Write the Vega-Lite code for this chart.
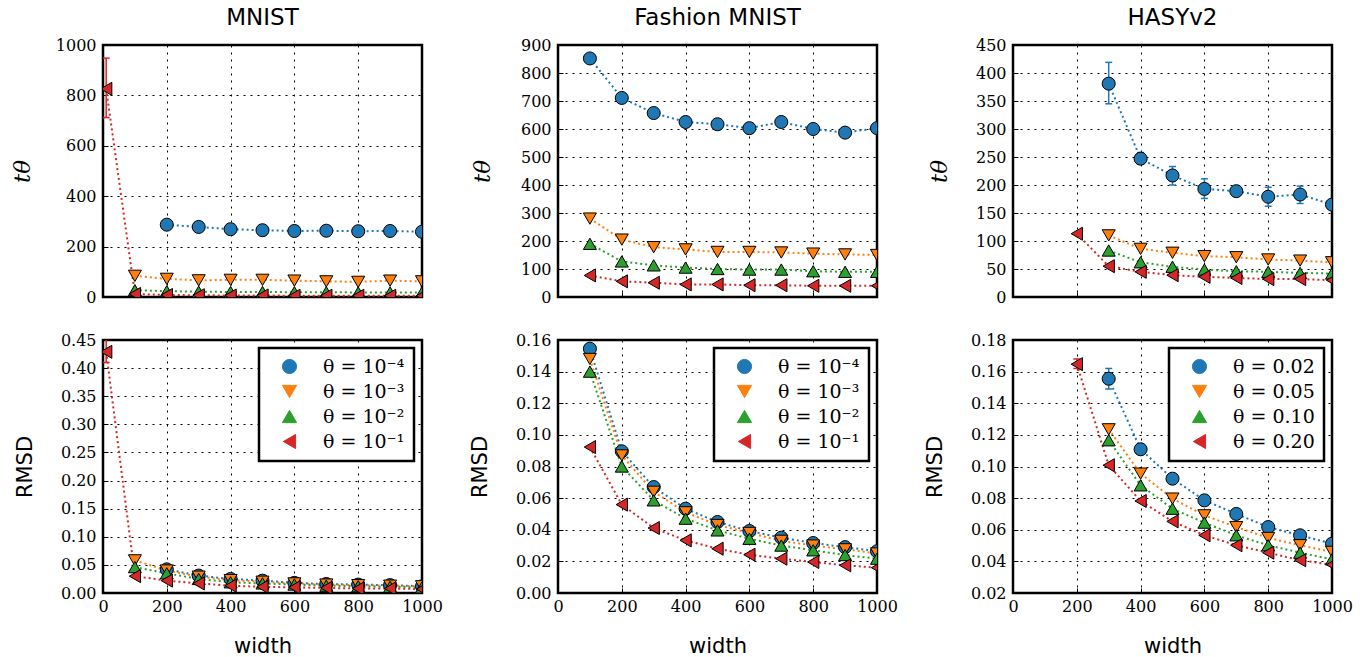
{
"$schema": "https://vega.github.io/schema/vega-lite/v6.json",
"padding": {"left": 10, "top": 5, "right": 5, "bottom": 5},
"columns": 3,
"spacing": {"row": 43, "column": 136},
"bounds": "flush",
"resolve": {"scale": {"color": "independent", "shape": "independent", "x": "independent", "y": "independent"}, "legend": {"color": "independent", "shape": "independent"}},
"data": {"values": [
{"d":"MNIST","m":"t","s":"θ = 10⁻⁴","w":200,"v":287},{"d":"MNIST","m":"t","s":"θ = 10⁻⁴","w":300,"v":278},{"d":"MNIST","m":"t","s":"θ = 10⁻⁴","w":400,"v":269},{"d":"MNIST","m":"t","s":"θ = 10⁻⁴","w":500,"v":265},{"d":"MNIST","m":"t","s":"θ = 10⁻⁴","w":600,"v":262},{"d":"MNIST","m":"t","s":"θ = 10⁻⁴","w":700,"v":263},{"d":"MNIST","m":"t","s":"θ = 10⁻⁴","w":800,"v":261},{"d":"MNIST","m":"t","s":"θ = 10⁻⁴","w":900,"v":262},{"d":"MNIST","m":"t","s":"θ = 10⁻⁴","w":1000,"v":259},
{"d":"MNIST","m":"t","s":"θ = 10⁻³","w":100,"v":84},{"d":"MNIST","m":"t","s":"θ = 10⁻³","w":200,"v":72},{"d":"MNIST","m":"t","s":"θ = 10⁻³","w":300,"v":66},{"d":"MNIST","m":"t","s":"θ = 10⁻³","w":400,"v":68},{"d":"MNIST","m":"t","s":"θ = 10⁻³","w":500,"v":68},{"d":"MNIST","m":"t","s":"θ = 10⁻³","w":600,"v":65},{"d":"MNIST","m":"t","s":"θ = 10⁻³","w":700,"v":62},{"d":"MNIST","m":"t","s":"θ = 10⁻³","w":800,"v":60},{"d":"MNIST","m":"t","s":"θ = 10⁻³","w":900,"v":65},{"d":"MNIST","m":"t","s":"θ = 10⁻³","w":1000,"v":62},
{"d":"MNIST","m":"t","s":"θ = 10⁻²","w":100,"v":27},{"d":"MNIST","m":"t","s":"θ = 10⁻²","w":200,"v":23},{"d":"MNIST","m":"t","s":"θ = 10⁻²","w":300,"v":21},{"d":"MNIST","m":"t","s":"θ = 10⁻²","w":400,"v":20},{"d":"MNIST","m":"t","s":"θ = 10⁻²","w":500,"v":20},{"d":"MNIST","m":"t","s":"θ = 10⁻²","w":600,"v":19},{"d":"MNIST","m":"t","s":"θ = 10⁻²","w":700,"v":19},{"d":"MNIST","m":"t","s":"θ = 10⁻²","w":800,"v":18},{"d":"MNIST","m":"t","s":"θ = 10⁻²","w":900,"v":18},{"d":"MNIST","m":"t","s":"θ = 10⁻²","w":1000,"v":18},
{"d":"MNIST","m":"t","s":"θ = 10⁻¹","w":10,"v":826,"lo":712,"hi":948},{"d":"MNIST","m":"t","s":"θ = 10⁻¹","w":100,"v":12},{"d":"MNIST","m":"t","s":"θ = 10⁻¹","w":200,"v":8},{"d":"MNIST","m":"t","s":"θ = 10⁻¹","w":300,"v":7},{"d":"MNIST","m":"t","s":"θ = 10⁻¹","w":400,"v":6},{"d":"MNIST","m":"t","s":"θ = 10⁻¹","w":500,"v":6},{"d":"MNIST","m":"t","s":"θ = 10⁻¹","w":600,"v":5},{"d":"MNIST","m":"t","s":"θ = 10⁻¹","w":700,"v":5},{"d":"MNIST","m":"t","s":"θ = 10⁻¹","w":800,"v":5},{"d":"MNIST","m":"t","s":"θ = 10⁻¹","w":900,"v":5},{"d":"MNIST","m":"t","s":"θ = 10⁻¹","w":1000,"v":5},

{"d":"MNIST","m":"r","s":"θ = 10⁻⁴","w":200,"v":0.042},{"d":"MNIST","m":"r","s":"θ = 10⁻⁴","w":300,"v":0.031},{"d":"MNIST","m":"r","s":"θ = 10⁻⁴","w":400,"v":0.025},{"d":"MNIST","m":"r","s":"θ = 10⁻⁴","w":500,"v":0.022},{"d":"MNIST","m":"r","s":"θ = 10⁻⁴","w":600,"v":0.018},{"d":"MNIST","m":"r","s":"θ = 10⁻⁴","w":700,"v":0.016},{"d":"MNIST","m":"r","s":"θ = 10⁻⁴","w":800,"v":0.015},{"d":"MNIST","m":"r","s":"θ = 10⁻⁴","w":900,"v":0.014},{"d":"MNIST","m":"r","s":"θ = 10⁻⁴","w":1000,"v":0.012},
{"d":"MNIST","m":"r","s":"θ = 10⁻³","w":100,"v":0.058},{"d":"MNIST","m":"r","s":"θ = 10⁻³","w":200,"v":0.040},{"d":"MNIST","m":"r","s":"θ = 10⁻³","w":300,"v":0.029},{"d":"MNIST","m":"r","s":"θ = 10⁻³","w":400,"v":0.023},{"d":"MNIST","m":"r","s":"θ = 10⁻³","w":500,"v":0.020},{"d":"MNIST","m":"r","s":"θ = 10⁻³","w":600,"v":0.017},{"d":"MNIST","m":"r","s":"θ = 10⁻³","w":700,"v":0.015},{"d":"MNIST","m":"r","s":"θ = 10⁻³","w":800,"v":0.014},{"d":"MNIST","m":"r","s":"θ = 10⁻³","w":900,"v":0.013},{"d":"MNIST","m":"r","s":"θ = 10⁻³","w":1000,"v":0.012},
{"d":"MNIST","m":"r","s":"θ = 10⁻²","w":100,"v":0.046},{"d":"MNIST","m":"r","s":"θ = 10⁻²","w":200,"v":0.035},{"d":"MNIST","m":"r","s":"θ = 10⁻²","w":300,"v":0.025},{"d":"MNIST","m":"r","s":"θ = 10⁻²","w":400,"v":0.019},{"d":"MNIST","m":"r","s":"θ = 10⁻²","w":500,"v":0.017},{"d":"MNIST","m":"r","s":"θ = 10⁻²","w":600,"v":0.015},{"d":"MNIST","m":"r","s":"θ = 10⁻²","w":700,"v":0.013},{"d":"MNIST","m":"r","s":"θ = 10⁻²","w":800,"v":0.012},{"d":"MNIST","m":"r","s":"θ = 10⁻²","w":900,"v":0.011},{"d":"MNIST","m":"r","s":"θ = 10⁻²","w":1000,"v":0.010},
{"d":"MNIST","m":"r","s":"θ = 10⁻¹","w":10,"v":0.429,"lo":0.41,"hi":0.46},{"d":"MNIST","m":"r","s":"θ = 10⁻¹","w":100,"v":0.030},{"d":"MNIST","m":"r","s":"θ = 10⁻¹","w":200,"v":0.022},{"d":"MNIST","m":"r","s":"θ = 10⁻¹","w":300,"v":0.017},{"d":"MNIST","m":"r","s":"θ = 10⁻¹","w":400,"v":0.013},{"d":"MNIST","m":"r","s":"θ = 10⁻¹","w":500,"v":0.011},{"d":"MNIST","m":"r","s":"θ = 10⁻¹","w":600,"v":0.010},{"d":"MNIST","m":"r","s":"θ = 10⁻¹","w":700,"v":0.009},{"d":"MNIST","m":"r","s":"θ = 10⁻¹","w":800,"v":0.008},{"d":"MNIST","m":"r","s":"θ = 10⁻¹","w":900,"v":0.008},{"d":"MNIST","m":"r","s":"θ = 10⁻¹","w":1000,"v":0.007},

{"d":"F","m":"t","s":"θ = 10⁻⁴","w":100,"v":852},{"d":"F","m":"t","s":"θ = 10⁻⁴","w":200,"v":711},{"d":"F","m":"t","s":"θ = 10⁻⁴","w":300,"v":657},{"d":"F","m":"t","s":"θ = 10⁻⁴","w":400,"v":625},{"d":"F","m":"t","s":"θ = 10⁻⁴","w":500,"v":617},{"d":"F","m":"t","s":"θ = 10⁻⁴","w":600,"v":603},{"d":"F","m":"t","s":"θ = 10⁻⁴","w":700,"v":625},{"d":"F","m":"t","s":"θ = 10⁻⁴","w":800,"v":600},{"d":"F","m":"t","s":"θ = 10⁻⁴","w":900,"v":587},{"d":"F","m":"t","s":"θ = 10⁻⁴","w":1000,"v":603},
{"d":"F","m":"t","s":"θ = 10⁻³","w":100,"v":280},{"d":"F","m":"t","s":"θ = 10⁻³","w":200,"v":205},{"d":"F","m":"t","s":"θ = 10⁻³","w":300,"v":178},{"d":"F","m":"t","s":"θ = 10⁻³","w":400,"v":170},{"d":"F","m":"t","s":"θ = 10⁻³","w":500,"v":161},{"d":"F","m":"t","s":"θ = 10⁻³","w":600,"v":161},{"d":"F","m":"t","s":"θ = 10⁻³","w":700,"v":159},{"d":"F","m":"t","s":"θ = 10⁻³","w":800,"v":155},{"d":"F","m":"t","s":"θ = 10⁻³","w":900,"v":152},{"d":"F","m":"t","s":"θ = 10⁻³","w":1000,"v":150},
{"d":"F","m":"t","s":"θ = 10⁻²","w":100,"v":190},{"d":"F","m":"t","s":"θ = 10⁻²","w":200,"v":127},{"d":"F","m":"t","s":"θ = 10⁻²","w":300,"v":113},{"d":"F","m":"t","s":"θ = 10⁻²","w":400,"v":105},{"d":"F","m":"t","s":"θ = 10⁻²","w":500,"v":100},{"d":"F","m":"t","s":"θ = 10⁻²","w":600,"v":98},{"d":"F","m":"t","s":"θ = 10⁻²","w":700,"v":98},{"d":"F","m":"t","s":"θ = 10⁻²","w":800,"v":92},{"d":"F","m":"t","s":"θ = 10⁻²","w":900,"v":90},{"d":"F","m":"t","s":"θ = 10⁻²","w":1000,"v":90},
{"d":"F","m":"t","s":"θ = 10⁻¹","w":100,"v":77},{"d":"F","m":"t","s":"θ = 10⁻¹","w":200,"v":56},{"d":"F","m":"t","s":"θ = 10⁻¹","w":300,"v":51},{"d":"F","m":"t","s":"θ = 10⁻¹","w":400,"v":45},{"d":"F","m":"t","s":"θ = 10⁻¹","w":500,"v":45},{"d":"F","m":"t","s":"θ = 10⁻¹","w":600,"v":42},{"d":"F","m":"t","s":"θ = 10⁻¹","w":700,"v":42},{"d":"F","m":"t","s":"θ = 10⁻¹","w":800,"v":40},{"d":"F","m":"t","s":"θ = 10⁻¹","w":900,"v":40},{"d":"F","m":"t","s":"θ = 10⁻¹","w":1000,"v":40},

{"d":"F","m":"r","s":"θ = 10⁻⁴","w":100,"v":0.1545},{"d":"F","m":"r","s":"θ = 10⁻⁴","w":200,"v":0.0896},{"d":"F","m":"r","s":"θ = 10⁻⁴","w":300,"v":0.067},{"d":"F","m":"r","s":"θ = 10⁻⁴","w":400,"v":0.0533},{"d":"F","m":"r","s":"θ = 10⁻⁴","w":500,"v":0.0449},{"d":"F","m":"r","s":"θ = 10⁻⁴","w":600,"v":0.0392},{"d":"F","m":"r","s":"θ = 10⁻⁴","w":700,"v":0.035},{"d":"F","m":"r","s":"θ = 10⁻⁴","w":800,"v":0.0316},{"d":"F","m":"r","s":"θ = 10⁻⁴","w":900,"v":0.029},{"d":"F","m":"r","s":"θ = 10⁻⁴","w":1000,"v":0.0264},
{"d":"F","m":"r","s":"θ = 10⁻³","w":100,"v":0.148},{"d":"F","m":"r","s":"θ = 10⁻³","w":200,"v":0.087},{"d":"F","m":"r","s":"θ = 10⁻³","w":300,"v":0.064},{"d":"F","m":"r","s":"θ = 10⁻³","w":400,"v":0.051},{"d":"F","m":"r","s":"θ = 10⁻³","w":500,"v":0.043},{"d":"F","m":"r","s":"θ = 10⁻³","w":600,"v":0.038},{"d":"F","m":"r","s":"θ = 10⁻³","w":700,"v":0.033},{"d":"F","m":"r","s":"θ = 10⁻³","w":800,"v":0.030},{"d":"F","m":"r","s":"θ = 10⁻³","w":900,"v":0.0276},{"d":"F","m":"r","s":"θ = 10⁻³","w":1000,"v":0.025},
{"d":"F","m":"r","s":"θ = 10⁻²","w":100,"v":0.140},{"d":"F","m":"r","s":"θ = 10⁻²","w":200,"v":0.080},{"d":"F","m":"r","s":"θ = 10⁻²","w":300,"v":0.0586},{"d":"F","m":"r","s":"θ = 10⁻²","w":400,"v":0.047},{"d":"F","m":"r","s":"θ = 10⁻²","w":500,"v":0.0396},{"d":"F","m":"r","s":"θ = 10⁻²","w":600,"v":0.0343},{"d":"F","m":"r","s":"θ = 10⁻²","w":700,"v":0.030},{"d":"F","m":"r","s":"θ = 10⁻²","w":800,"v":0.027},{"d":"F","m":"r","s":"θ = 10⁻²","w":900,"v":0.024},{"d":"F","m":"r","s":"θ = 10⁻²","w":1000,"v":0.0217},
{"d":"F","m":"r","s":"θ = 10⁻¹","w":100,"v":0.0923},{"d":"F","m":"r","s":"θ = 10⁻¹","w":200,"v":0.0559},{"d":"F","m":"r","s":"θ = 10⁻¹","w":300,"v":0.0411},{"d":"F","m":"r","s":"θ = 10⁻¹","w":400,"v":0.0333},{"d":"F","m":"r","s":"θ = 10⁻¹","w":500,"v":0.028},{"d":"F","m":"r","s":"θ = 10⁻¹","w":600,"v":0.0242},{"d":"F","m":"r","s":"θ = 10⁻¹","w":700,"v":0.0217},{"d":"F","m":"r","s":"θ = 10⁻¹","w":800,"v":0.0196},{"d":"F","m":"r","s":"θ = 10⁻¹","w":900,"v":0.0175},{"d":"F","m":"r","s":"θ = 10⁻¹","w":1000,"v":0.016},

{"d":"H","m":"t","s":"θ = 0.02","w":300,"v":381,"lo":345,"hi":419},{"d":"H","m":"t","s":"θ = 0.02","w":400,"v":247,"lo":237,"hi":258},{"d":"H","m":"t","s":"θ = 0.02","w":500,"v":217,"lo":200,"hi":233},{"d":"H","m":"t","s":"θ = 0.02","w":600,"v":193,"lo":176,"hi":211},{"d":"H","m":"t","s":"θ = 0.02","w":700,"v":189},{"d":"H","m":"t","s":"θ = 0.02","w":800,"v":179,"lo":162,"hi":196},{"d":"H","m":"t","s":"θ = 0.02","w":900,"v":183,"lo":167,"hi":198},{"d":"H","m":"t","s":"θ = 0.02","w":1000,"v":165},
{"d":"H","m":"t","s":"θ = 0.05","w":300,"v":110},{"d":"H","m":"t","s":"θ = 0.05","w":400,"v":86},{"d":"H","m":"t","s":"θ = 0.05","w":500,"v":79},{"d":"H","m":"t","s":"θ = 0.05","w":600,"v":73},{"d":"H","m":"t","s":"θ = 0.05","w":700,"v":71},{"d":"H","m":"t","s":"θ = 0.05","w":800,"v":67},{"d":"H","m":"t","s":"θ = 0.05","w":900,"v":65},{"d":"H","m":"t","s":"θ = 0.05","w":1000,"v":62},
{"d":"H","m":"t","s":"θ = 0.10","w":300,"v":83},{"d":"H","m":"t","s":"θ = 0.10","w":400,"v":62},{"d":"H","m":"t","s":"θ = 0.10","w":500,"v":54},{"d":"H","m":"t","s":"θ = 0.10","w":600,"v":49},{"d":"H","m":"t","s":"θ = 0.10","w":700,"v":46},{"d":"H","m":"t","s":"θ = 0.10","w":800,"v":45},{"d":"H","m":"t","s":"θ = 0.10","w":900,"v":43},{"d":"H","m":"t","s":"θ = 0.10","w":1000,"v":42},
{"d":"H","m":"t","s":"θ = 0.20","w":200,"v":113},{"d":"H","m":"t","s":"θ = 0.20","w":300,"v":55},{"d":"H","m":"t","s":"θ = 0.20","w":400,"v":45},{"d":"H","m":"t","s":"θ = 0.20","w":500,"v":39},{"d":"H","m":"t","s":"θ = 0.20","w":600,"v":36},{"d":"H","m":"t","s":"θ = 0.20","w":700,"v":34},{"d":"H","m":"t","s":"θ = 0.20","w":800,"v":32},{"d":"H","m":"t","s":"θ = 0.20","w":900,"v":32},{"d":"H","m":"t","s":"θ = 0.20","w":1000,"v":30},

{"d":"H","m":"r","s":"θ = 0.02","w":300,"v":0.1555,"lo":0.149,"hi":0.162},{"d":"H","m":"r","s":"θ = 0.02","w":400,"v":0.1109},{"d":"H","m":"r","s":"θ = 0.02","w":500,"v":0.0923},{"d":"H","m":"r","s":"θ = 0.02","w":600,"v":0.0786},{"d":"H","m":"r","s":"θ = 0.02","w":700,"v":0.070},{"d":"H","m":"r","s":"θ = 0.02","w":800,"v":0.0617},{"d":"H","m":"r","s":"θ = 0.02","w":900,"v":0.0565},{"d":"H","m":"r","s":"θ = 0.02","w":1000,"v":0.0512},
{"d":"H","m":"r","s":"θ = 0.05","w":300,"v":0.1235},{"d":"H","m":"r","s":"θ = 0.05","w":400,"v":0.0955},{"d":"H","m":"r","s":"θ = 0.05","w":500,"v":0.0797},{"d":"H","m":"r","s":"θ = 0.05","w":600,"v":0.0691},{"d":"H","m":"r","s":"θ = 0.05","w":700,"v":0.0617},{"d":"H","m":"r","s":"θ = 0.05","w":800,"v":0.0548},{"d":"H","m":"r","s":"θ = 0.05","w":900,"v":0.0502},{"d":"H","m":"r","s":"θ = 0.05","w":1000,"v":0.046},
{"d":"H","m":"r","s":"θ = 0.10","w":300,"v":0.1166},{"d":"H","m":"r","s":"θ = 0.10","w":400,"v":0.0881},{"d":"H","m":"r","s":"θ = 0.10","w":500,"v":0.0733},{"d":"H","m":"r","s":"θ = 0.10","w":600,"v":0.0645},{"d":"H","m":"r","s":"θ = 0.10","w":700,"v":0.0565},{"d":"H","m":"r","s":"θ = 0.10","w":800,"v":0.0502},{"d":"H","m":"r","s":"θ = 0.10","w":900,"v":0.0455},{"d":"H","m":"r","s":"θ = 0.10","w":1000,"v":0.0413},
{"d":"H","m":"r","s":"θ = 0.20","w":200,"v":0.1647,"lo":0.162,"hi":0.168},{"d":"H","m":"r","s":"θ = 0.20","w":300,"v":0.1008},{"d":"H","m":"r","s":"θ = 0.20","w":400,"v":0.0782},{"d":"H","m":"r","s":"θ = 0.20","w":500,"v":0.0653},{"d":"H","m":"r","s":"θ = 0.20","w":600,"v":0.0565},{"d":"H","m":"r","s":"θ = 0.20","w":700,"v":0.0502},{"d":"H","m":"r","s":"θ = 0.20","w":800,"v":0.0455},{"d":"H","m":"r","s":"θ = 0.20","w":900,"v":0.0407},{"d":"H","m":"r","s":"θ = 0.20","w":1000,"v":0.0379}
]},
"concat": [
{
"title": "MNIST", "width": 319, "height": 252,
"transform": [{"filter": "datum.d == 'MNIST' && datum.m == 't'"}],
"encoding": {"x": {"field": "w", "type": "quantitative", "scale": {"domain": [0, 1000], "nice": false}, "axis": {"values": [0,200,400,600,800,1000], "labels": false, "title": null}}},
"layer": [
{"mark": {"type": "line", "strokeDash": [2, 3], "strokeWidth": 2, "clip": true},
 "encoding": {"y": {"field": "v", "type": "quantitative", "title": "tθ", "scale": {"domain": [0, 1000], "nice": false}, "axis": {"values": [0,200,400,600,800,1000], "format": "d", "titleFont": "DejaVu Serif", "titleFontStyle": "italic", "titleFontSize": 23, "titlePadding": 21}},
  "color": {"field": "s", "type": "nominal", "scale": {"domain": ["θ = 10⁻⁴","θ = 10⁻³","θ = 10⁻²","θ = 10⁻¹"], "range": ["#1f77b4","#ff7f0e","#2ca02c","#d62728"]}, "legend": null}}},
{"transform": [{"filter": "isValid(datum.lo)"}], "mark": {"type": "rule", "strokeWidth": 1.5, "clip": true},
 "encoding": {"y": {"field": "lo", "type": "quantitative", "title": "tθ", "axis": {"values": [0,200,400,600,800,1000], "format": "d", "titleFont": "DejaVu Serif", "titleFontStyle": "italic", "titleFontSize": 23, "titlePadding": 21}}, "y2": {"field": "hi"}, "color": {"field": "s", "type": "nominal", "legend": null}}},
{"transform": [{"filter": "isValid(datum.lo)"}], "mark": {"type": "point", "shape": "stroke", "size": 49, "strokeWidth": 1.5, "opacity": 1, "clip": true},
 "encoding": {"y": {"field": "lo", "type": "quantitative", "title": "tθ", "axis": {"values": [0,200,400,600,800,1000], "format": "d", "titleFont": "DejaVu Serif", "titleFontStyle": "italic", "titleFontSize": 23, "titlePadding": 21}}, "color": {"field": "s", "type": "nominal", "legend": null}}},
{"transform": [{"filter": "isValid(datum.lo)"}], "mark": {"type": "point", "shape": "stroke", "size": 49, "strokeWidth": 1.5, "opacity": 1, "clip": true},
 "encoding": {"y": {"field": "hi", "type": "quantitative", "title": "tθ", "axis": {"values": [0,200,400,600,800,1000], "format": "d", "titleFont": "DejaVu Serif", "titleFontStyle": "italic", "titleFontSize": 23, "titlePadding": 21}}, "color": {"field": "s", "type": "nominal", "legend": null}}},
{"mark": {"type": "point", "filled": true, "stroke": "black", "strokeWidth": 1, "size": 170, "opacity": 1, "clip": true},
 "encoding": {"y": {"field": "v", "type": "quantitative", "title": "tθ", "axis": {"values": [0,200,400,600,800,1000], "format": "d", "titleFont": "DejaVu Serif", "titleFontStyle": "italic", "titleFontSize": 23, "titlePadding": 21}}, "color": {"field": "s", "type": "nominal", "legend": null},
  "shape": {"field": "s", "type": "nominal", "scale": {"domain": ["θ = 10⁻⁴","θ = 10⁻³","θ = 10⁻²","θ = 10⁻¹"], "range": ["circle","triangle-down","triangle-up","triangle-left"]}, "legend": null}}}
]
},
{
"title": "Fashion MNIST", "width": 319, "height": 252,
"transform": [{"filter": "datum.d == 'F' && datum.m == 't'"}],
"encoding": {"x": {"field": "w", "type": "quantitative", "scale": {"domain": [0, 1000], "nice": false}, "axis": {"values": [0,200,400,600,800,1000], "labels": false, "title": null}}},
"layer": [
{"mark": {"type": "line", "strokeDash": [2, 3], "strokeWidth": 2, "clip": true},
 "encoding": {"y": {"field": "v", "type": "quantitative", "title": "tθ", "scale": {"domain": [0, 900], "nice": false}, "axis": {"values": [0,100,200,300,400,500,600,700,800,900], "format": "d", "titleFont": "DejaVu Serif", "titleFontStyle": "italic", "titleFontSize": 23, "titlePadding": 26}},
  "color": {"field": "s", "type": "nominal", "scale": {"domain": ["θ = 10⁻⁴","θ = 10⁻³","θ = 10⁻²","θ = 10⁻¹"], "range": ["#1f77b4","#ff7f0e","#2ca02c","#d62728"]}, "legend": null}}},
{"mark": {"type": "point", "filled": true, "stroke": "black", "strokeWidth": 1, "size": 170, "opacity": 1, "clip": true},
 "encoding": {"y": {"field": "v", "type": "quantitative", "title": "tθ", "axis": {"values": [0,100,200,300,400,500,600,700,800,900], "format": "d", "titleFont": "DejaVu Serif", "titleFontStyle": "italic", "titleFontSize": 23, "titlePadding": 26}}, "color": {"field": "s", "type": "nominal", "legend": null},
  "shape": {"field": "s", "type": "nominal", "scale": {"domain": ["θ = 10⁻⁴","θ = 10⁻³","θ = 10⁻²","θ = 10⁻¹"], "range": ["circle","triangle-down","triangle-up","triangle-left"]}, "legend": null}}}
]
},
{
"title": "HASYv2", "width": 319, "height": 252,
"transform": [{"filter": "datum.d == 'H' && datum.m == 't'"}],
"encoding": {"x": {"field": "w", "type": "quantitative", "scale": {"domain": [0, 1000], "nice": false}, "axis": {"values": [0,200,400,600,800,1000], "labels": false, "title": null}}},
"layer": [
{"mark": {"type": "line", "strokeDash": [2, 3], "strokeWidth": 2, "clip": true},
 "encoding": {"y": {"field": "v", "type": "quantitative", "title": "tθ", "scale": {"domain": [0, 450], "nice": false}, "axis": {"values": [0,50,100,150,200,250,300,350,400,450], "format": "d", "titleFont": "DejaVu Serif", "titleFontStyle": "italic", "titleFontSize": 23, "titlePadding": 24}},
  "color": {"field": "s", "type": "nominal", "scale": {"domain": ["θ = 0.02","θ = 0.05","θ = 0.10","θ = 0.20"], "range": ["#1f77b4","#ff7f0e","#2ca02c","#d62728"]}, "legend": null}}},
{"transform": [{"filter": "isValid(datum.lo)"}], "mark": {"type": "rule", "strokeWidth": 1.5, "clip": true},
 "encoding": {"y": {"field": "lo", "type": "quantitative", "title": "tθ", "axis": {"values": [0,50,100,150,200,250,300,350,400,450], "format": "d", "titleFont": "DejaVu Serif", "titleFontStyle": "italic", "titleFontSize": 23, "titlePadding": 24}}, "y2": {"field": "hi"}, "color": {"field": "s", "type": "nominal", "legend": null}}},
{"transform": [{"filter": "isValid(datum.lo)"}], "mark": {"type": "point", "shape": "stroke", "size": 49, "strokeWidth": 1.5, "opacity": 1, "clip": true},
 "encoding": {"y": {"field": "lo", "type": "quantitative", "title": "tθ", "axis": {"values": [0,50,100,150,200,250,300,350,400,450], "format": "d", "titleFont": "DejaVu Serif", "titleFontStyle": "italic", "titleFontSize": 23, "titlePadding": 24}}, "color": {"field": "s", "type": "nominal", "legend": null}}},
{"transform": [{"filter": "isValid(datum.lo)"}], "mark": {"type": "point", "shape": "stroke", "size": 49, "strokeWidth": 1.5, "opacity": 1, "clip": true},
 "encoding": {"y": {"field": "hi", "type": "quantitative", "title": "tθ", "axis": {"values": [0,50,100,150,200,250,300,350,400,450], "format": "d", "titleFont": "DejaVu Serif", "titleFontStyle": "italic", "titleFontSize": 23, "titlePadding": 24}}, "color": {"field": "s", "type": "nominal", "legend": null}}},
{"mark": {"type": "point", "filled": true, "stroke": "black", "strokeWidth": 1, "size": 170, "opacity": 1, "clip": true},
 "encoding": {"y": {"field": "v", "type": "quantitative", "title": "tθ", "axis": {"values": [0,50,100,150,200,250,300,350,400,450], "format": "d", "titleFont": "DejaVu Serif", "titleFontStyle": "italic", "titleFontSize": 23, "titlePadding": 24}}, "color": {"field": "s", "type": "nominal", "legend": null},
  "shape": {"field": "s", "type": "nominal", "scale": {"domain": ["θ = 0.02","θ = 0.05","θ = 0.10","θ = 0.20"], "range": ["circle","triangle-down","triangle-up","triangle-left"]}, "legend": null}}}
]
},
{
"width": 319, "height": 253,
"transform": [{"filter": "datum.d == 'MNIST' && datum.m == 'r'"}],
"encoding": {"x": {"field": "w", "type": "quantitative", "title": "width", "scale": {"domain": [0, 1000], "nice": false}, "axis": {"values": [0,200,400,600,800,1000], "format": "d"}}},
"layer": [
{"mark": {"type": "line", "strokeDash": [2, 3], "strokeWidth": 2, "clip": true},
 "encoding": {"y": {"field": "v", "type": "quantitative", "title": "RMSD", "scale": {"domain": [0, 0.45], "nice": false}, "axis": {"values": [0,0.05,0.1,0.15,0.2,0.25,0.3,0.35,0.4,0.45], "format": ".2f", "titlePadding": 25}},
  "color": {"field": "s", "type": "nominal", "scale": {"domain": ["θ = 10⁻⁴","θ = 10⁻³","θ = 10⁻²","θ = 10⁻¹"], "range": ["#1f77b4","#ff7f0e","#2ca02c","#d62728"]}}}},
{"transform": [{"filter": "isValid(datum.lo)"}], "mark": {"type": "rule", "strokeWidth": 1.5, "clip": true},
 "encoding": {"y": {"field": "lo", "type": "quantitative", "title": "RMSD", "axis": {"values": [0,0.05,0.1,0.15,0.2,0.25,0.3,0.35,0.4,0.45], "format": ".2f", "titlePadding": 25}}, "y2": {"field": "hi"}, "color": {"field": "s", "type": "nominal"}}},
{"transform": [{"filter": "isValid(datum.lo)"}], "mark": {"type": "point", "shape": "stroke", "size": 49, "strokeWidth": 1.5, "opacity": 1, "clip": true},
 "encoding": {"y": {"field": "lo", "type": "quantitative", "title": "RMSD", "axis": {"values": [0,0.05,0.1,0.15,0.2,0.25,0.3,0.35,0.4,0.45], "format": ".2f", "titlePadding": 25}}, "color": {"field": "s", "type": "nominal"}}},
{"mark": {"type": "point", "filled": true, "stroke": "black", "strokeWidth": 1, "size": 170, "opacity": 1, "clip": true},
 "encoding": {"y": {"field": "v", "type": "quantitative", "title": "RMSD", "axis": {"values": [0,0.05,0.1,0.15,0.2,0.25,0.3,0.35,0.4,0.45], "format": ".2f", "titlePadding": 25}}, "color": {"field": "s", "type": "nominal", "legend": {"encode": {"symbols": {"update": {"stroke": {"value": "black"}, "strokeWidth": {"value": 1}}}}}},
  "shape": {"field": "s", "type": "nominal", "scale": {"domain": ["θ = 10⁻⁴","θ = 10⁻³","θ = 10⁻²","θ = 10⁻¹"], "range": ["circle","triangle-down","triangle-up","triangle-left"]}, "legend": {"encode": {"symbols": {"update": {"stroke": {"value": "black"}, "strokeWidth": {"value": 1}}}}}}}}
]
},
{
"width": 319, "height": 253,
"transform": [{"filter": "datum.d == 'F' && datum.m == 'r'"}],
"encoding": {"x": {"field": "w", "type": "quantitative", "title": "width", "scale": {"domain": [0, 1000], "nice": false}, "axis": {"values": [0,200,400,600,800,1000], "format": "d"}}},
"layer": [
{"mark": {"type": "line", "strokeDash": [2, 3], "strokeWidth": 2, "clip": true},
 "encoding": {"y": {"field": "v", "type": "quantitative", "title": "RMSD", "scale": {"domain": [0, 0.16], "nice": false}, "axis": {"values": [0,0.02,0.04,0.06,0.08,0.1,0.12,0.14,0.16], "format": ".2f", "titlePadding": 25}},
  "color": {"field": "s", "type": "nominal", "scale": {"domain": ["θ = 10⁻⁴","θ = 10⁻³","θ = 10⁻²","θ = 10⁻¹"], "range": ["#1f77b4","#ff7f0e","#2ca02c","#d62728"]}}}},
{"mark": {"type": "point", "filled": true, "stroke": "black", "strokeWidth": 1, "size": 170, "opacity": 1, "clip": true},
 "encoding": {"y": {"field": "v", "type": "quantitative", "title": "RMSD", "axis": {"values": [0,0.02,0.04,0.06,0.08,0.1,0.12,0.14,0.16], "format": ".2f", "titlePadding": 25}}, "color": {"field": "s", "type": "nominal", "legend": {"encode": {"symbols": {"update": {"stroke": {"value": "black"}, "strokeWidth": {"value": 1}}}}}},
  "shape": {"field": "s", "type": "nominal", "scale": {"domain": ["θ = 10⁻⁴","θ = 10⁻³","θ = 10⁻²","θ = 10⁻¹"], "range": ["circle","triangle-down","triangle-up","triangle-left"]}, "legend": {"encode": {"symbols": {"update": {"stroke": {"value": "black"}, "strokeWidth": {"value": 1}}}}}}}}
]
},
{
"width": 319, "height": 253,
"transform": [{"filter": "datum.d == 'H' && datum.m == 'r'"}],
"encoding": {"x": {"field": "w", "type": "quantitative", "title": "width", "scale": {"domain": [0, 1000], "nice": false}, "axis": {"values": [0,200,400,600,800,1000], "format": "d"}}},
"layer": [
{"mark": {"type": "line", "strokeDash": [2, 3], "strokeWidth": 2, "clip": true},
 "encoding": {"y": {"field": "v", "type": "quantitative", "title": "RMSD", "scale": {"domain": [0.02, 0.18], "nice": false, "zero": false}, "axis": {"values": [0.02,0.04,0.06,0.08,0.1,0.12,0.14,0.16,0.18], "format": ".2f", "titlePadding": 25}},
  "color": {"field": "s", "type": "nominal", "scale": {"domain": ["θ = 0.02","θ = 0.05","θ = 0.10","θ = 0.20"], "range": ["#1f77b4","#ff7f0e","#2ca02c","#d62728"]}}}},
{"transform": [{"filter": "isValid(datum.lo)"}], "mark": {"type": "rule", "strokeWidth": 1.5, "clip": true},
 "encoding": {"y": {"field": "lo", "type": "quantitative", "title": "RMSD", "axis": {"values": [0.02,0.04,0.06,0.08,0.1,0.12,0.14,0.16,0.18], "format": ".2f", "titlePadding": 25}}, "y2": {"field": "hi"}, "color": {"field": "s", "type": "nominal"}}},
{"transform": [{"filter": "isValid(datum.lo)"}], "mark": {"type": "point", "shape": "stroke", "size": 49, "strokeWidth": 1.5, "opacity": 1, "clip": true},
 "encoding": {"y": {"field": "lo", "type": "quantitative", "title": "RMSD", "axis": {"values": [0.02,0.04,0.06,0.08,0.1,0.12,0.14,0.16,0.18], "format": ".2f", "titlePadding": 25}}, "color": {"field": "s", "type": "nominal"}}},
{"transform": [{"filter": "isValid(datum.lo)"}], "mark": {"type": "point", "shape": "stroke", "size": 49, "strokeWidth": 1.5, "opacity": 1, "clip": true},
 "encoding": {"y": {"field": "hi", "type": "quantitative", "title": "RMSD", "axis": {"values": [0.02,0.04,0.06,0.08,0.1,0.12,0.14,0.16,0.18], "format": ".2f", "titlePadding": 25}}, "color": {"field": "s", "type": "nominal"}}},
{"mark": {"type": "point", "filled": true, "stroke": "black", "strokeWidth": 1, "size": 170, "opacity": 1, "clip": true},
 "encoding": {"y": {"field": "v", "type": "quantitative", "title": "RMSD", "axis": {"values": [0.02,0.04,0.06,0.08,0.1,0.12,0.14,0.16,0.18], "format": ".2f", "titlePadding": 25}}, "color": {"field": "s", "type": "nominal", "legend": {"encode": {"symbols": {"update": {"stroke": {"value": "black"}, "strokeWidth": {"value": 1}}}}}},
  "shape": {"field": "s", "type": "nominal", "scale": {"domain": ["θ = 0.02","θ = 0.05","θ = 0.10","θ = 0.20"], "range": ["circle","triangle-down","triangle-up","triangle-left"]}, "legend": {"encode": {"symbols": {"update": {"stroke": {"value": "black"}, "strokeWidth": {"value": 1}}}}}}}}
]
}
],
"config": {
"background": "white",
"view": {"stroke": "black", "strokeWidth": 2.5},
"axis": {"grid": true, "gridColor": "black", "gridDash": [2, 5], "gridWidth": 1, "gridOpacity": 1, "domain": false, "ticks": true, "tickColor": "black", "tickSize": -5, "tickWidth": 1, "labelOverlap": false, "labelFlush": false, "labelBound": false, "labelFont": "DejaVu Serif", "labelFontSize": 16, "labelColor": "black", "labelPadding": 12, "titleFont": "DejaVu Sans", "titleFontSize": 21, "titleFontWeight": "normal", "titleColor": "black"},
"axisX": {"labelPadding": 10, "titlePadding": 21},
"title": {"font": "DejaVu Sans", "fontSize": 23, "fontWeight": "normal", "color": "black", "offset": 7},
"legend": {"title": null, "orient": "top-right", "offset": 8, "fillColor": "white", "strokeColor": "black", "strokeWidth": 2.5, "padding": 9, "cornerRadius": 0, "labelFont": "DejaVu Serif", "labelFontSize": 19, "labelColor": "black", "symbolSize": 200, "symbolStrokeColor": "black", "symbolStrokeWidth": 1, "symbolOpacity": 1, "rowPadding": 5, "symbolOffset": 12, "labelOffset": 24}
}
}
